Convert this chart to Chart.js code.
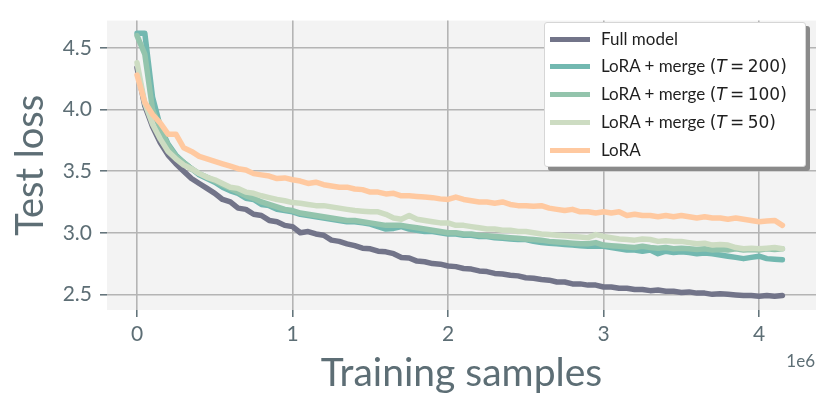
<!DOCTYPE html>
<html>
<head>
<meta charset="utf-8">
<script src="https://cdn.jsdelivr.net/npm/chart.js@4.4.0/dist/chart.umd.min.js"></script>
<style>
  html, body { margin: 0; padding: 0; background: #ffffff; }
  #wrap { position: relative; width: 830px; height: 409px; }
  #legend {
    position: absolute; left: 544px; top: 22px; width: 262px; height: 145px;
    background: #ffffff; border: 1px solid #d6d6d6; border-radius: 3px;
    box-shadow: 4px 4px 0 #8a8a8a; box-sizing: border-box;
    font-family: Lato, "Open Sans", sans-serif; font-size: 17px; color: #1f1f1f;
  }
  .row { position: absolute; left: 0; height: 20px; }
  .sw { position: absolute; left: 5px; width: 40px; height: 5px; }
  .lab { position: absolute; left: 56px; white-space: nowrap; line-height: 20px; }
  .math { font-family: "DejaVu Sans", sans-serif; font-size: 17px; }
  .math i { font-family: "DejaVu Sans", sans-serif; font-style: oblique; }
</style>
</head>
<body>
<div id="wrap">
  <canvas id="c" width="830" height="409"></canvas>
  <div id="legend"></div>
</div>
<script>
// Training samples (in units of 1e6)
const samples = [0,0.05,0.1,0.15,0.2,0.25,0.3,0.35,0.4,0.45,0.5,0.55,0.6,0.65,0.7,0.75,0.8,0.85,0.9,0.95,
  1,1.05,1.1,1.15,1.2,1.25,1.3,1.35,1.4,1.45,1.5,1.55,1.6,1.65,1.7,1.75,1.8,1.85,1.9,1.95,
  2,2.05,2.1,2.15,2.2,2.25,2.3,2.35,2.4,2.45,2.5,2.55,2.6,2.65,2.7,2.75,2.8,2.85,2.9,2.95,
  3,3.05,3.1,3.15,3.2,3.25,3.3,3.35,3.4,3.45,3.5,3.55,3.6,3.65,3.7,3.75,3.8,3.85,3.9,3.95,
  4,4.05,4.1,4.15];

const fullModel = [4.34,4.03,3.86,3.73,3.63,3.56,3.50,3.44,3.40,3.36,3.32,3.27,3.25,3.20,3.19,3.15,3.14,3.10,3.09,3.06,
  3.05,3.00,3.01,2.99,2.98,2.94,2.93,2.91,2.895,2.875,2.87,2.85,2.845,2.83,2.80,2.795,2.77,2.765,2.75,2.745,
  2.73,2.725,2.71,2.705,2.69,2.685,2.67,2.665,2.655,2.65,2.635,2.63,2.62,2.615,2.60,2.60,2.585,2.585,2.575,2.575,
  2.56,2.56,2.55,2.55,2.54,2.54,2.53,2.535,2.525,2.525,2.515,2.52,2.51,2.51,2.50,2.505,2.50,2.495,2.49,2.49,
  2.485,2.49,2.485,2.49];

const mergeT200 = [4.62,4.62,4.10,3.86,3.72,3.63,3.57,3.52,3.47,3.44,3.41,3.37,3.34,3.32,3.28,3.27,3.23,3.22,3.19,3.18,
  3.17,3.15,3.14,3.13,3.12,3.11,3.10,3.09,3.09,3.08,3.07,3.05,3.03,3.035,3.05,3.03,3.02,3.01,3.01,3.00,
  2.99,2.99,2.98,2.98,2.97,2.97,2.96,2.955,2.95,2.945,2.945,2.93,2.92,2.915,2.91,2.905,2.90,2.895,2.89,2.89,
  2.89,2.88,2.87,2.86,2.86,2.85,2.86,2.83,2.85,2.84,2.845,2.84,2.83,2.835,2.83,2.82,2.81,2.80,2.79,2.80,
  2.81,2.79,2.785,2.78];

const mergeT100 = [4.60,4.45,4.00,3.84,3.71,3.62,3.57,3.52,3.48,3.45,3.42,3.39,3.36,3.33,3.30,3.28,3.25,3.23,3.21,3.19,
  3.18,3.16,3.15,3.14,3.13,3.12,3.11,3.10,3.10,3.09,3.08,3.07,3.06,3.06,3.06,3.05,3.04,3.03,3.02,3.01,
  3.00,3.00,2.99,2.99,2.98,2.975,2.97,2.965,2.96,2.955,2.95,2.945,2.94,2.93,2.925,2.92,2.915,2.91,2.91,2.92,
  2.90,2.895,2.89,2.885,2.88,2.89,2.88,2.875,2.88,2.87,2.875,2.87,2.865,2.87,2.86,2.865,2.86,2.87,2.86,2.865,
  2.86,2.87,2.865,2.87];

const mergeT50 = [4.38,4.05,3.88,3.76,3.66,3.60,3.55,3.52,3.48,3.45,3.43,3.40,3.37,3.36,3.33,3.32,3.30,3.285,3.27,3.26,
  3.245,3.24,3.23,3.22,3.22,3.21,3.20,3.19,3.18,3.175,3.17,3.17,3.15,3.12,3.11,3.14,3.11,3.10,3.09,3.08,
  3.08,3.06,3.06,3.05,3.04,3.03,3.03,3.02,3.02,3.01,3.01,3.00,2.99,2.985,2.98,2.975,2.97,2.965,2.96,2.985,
  2.97,2.96,2.95,2.945,2.94,2.95,2.945,2.93,2.935,2.93,2.93,2.92,2.91,2.915,2.90,2.905,2.90,2.88,2.87,2.875,
  2.87,2.875,2.88,2.87];

const lora = [4.28,4.06,3.96,3.89,3.80,3.80,3.69,3.66,3.62,3.60,3.58,3.56,3.54,3.52,3.51,3.48,3.47,3.46,3.44,3.445,
  3.43,3.42,3.40,3.41,3.39,3.38,3.37,3.37,3.355,3.35,3.33,3.33,3.315,3.32,3.30,3.30,3.295,3.29,3.285,3.275,
  3.27,3.29,3.27,3.26,3.25,3.25,3.24,3.25,3.23,3.22,3.22,3.215,3.22,3.20,3.19,3.18,3.19,3.17,3.17,3.16,
  3.17,3.16,3.17,3.14,3.15,3.14,3.14,3.13,3.14,3.13,3.14,3.13,3.12,3.13,3.12,3.12,3.11,3.12,3.11,3.10,
  3.09,3.095,3.10,3.06];

const seriesNames = ['Full model', 'LoRA + merge', 'LoRA + merge', 'LoRA + merge', 'LoRA'];
const seriesT = [null, '200', '100', '50', null];
const seriesColors = ['#727489', '#72b8b0', '#93c4ac', '#cddcc2', '#ffc9a0'];
const seriesValues = [fullModel, mergeT200, mergeT100, mergeT50, lora];

const xTicks = [0, 1, 2, 3, 4];
const yTicks = [2.5, 3.0, 3.5, 4.0, 4.5];

const datasets = seriesValues.map((vals, i) => ({
  label: seriesNames[i] + (seriesT[i] ? ' (T = ' + seriesT[i] + ')' : ''),
  data: vals.map((v, k) => ({ x: samples[k], y: v })),
  borderColor: seriesColors[i],
  backgroundColor: seriesColors[i],
  borderWidth: 5.5,
  pointRadius: 0,
  tension: 0,
  borderJoinStyle: 'round',
  borderCapStyle: 'round',
  order: seriesValues.length - i
}));

const bgPlugin = {
  id: 'bg',
  beforeDraw(chart) {
    const { ctx, chartArea: a } = chart;
    ctx.save();
    ctx.fillStyle = '#f3f3f3';
    ctx.fillRect(a.left, a.top, a.right - a.left, a.bottom - a.top);
    ctx.restore();
  },
  afterDraw(chart) {
    const { ctx } = chart;
    ctx.save();
    ctx.fillStyle = '#5d6e75';
    ctx.font = '17px Lato, sans-serif';
    ctx.textAlign = 'right';
    ctx.textBaseline = 'middle';
    ctx.fillText('1e6', 815, 362);
    ctx.restore();
  }
};

const tickColor = '#5d6e75';
new Chart(document.getElementById('c'), {
  type: 'line',
  data: { datasets },
  plugins: [bgPlugin],
  options: {
    responsive: false,
    animation: false,
    layout: { padding: { left: 0, top: 14, right: 14, bottom: 0 } },
    plugins: { legend: { display: false }, tooltip: { enabled: false } },
    scales: {
      x: {
        type: 'linear',
        min: -0.193, max: 4.366,
        afterFit(s) { s.height = 99; },
        afterBuildTicks(s) { s.ticks = xTicks.map(v => ({ value: v })); },
        border: { display: false },
        grid: { color: '#b4b4b4', lineWidth: 1.6, tickColor: tickColor, tickLength: 7, tickWidth: 1.5 },
        ticks: { color: tickColor, font: { family: 'Lato', size: 21 }, padding: 5, callback: v => String(v), maxRotation: 0 },
        title: { display: true, text: 'Training samples', color: tickColor, font: { family: 'Lato', size: 39 }, padding: { top: 0, bottom: 12 } }
      },
      y: {
        type: 'linear',
        min: 2.373, max: 4.722,
        afterFit(s) { s.width = 107; },
        afterBuildTicks(s) { s.ticks = yTicks.map(v => ({ value: v })); },
        border: { display: false },
        grid: { color: '#b4b4b4', lineWidth: 1.6, tickColor: tickColor, tickLength: 7, tickWidth: 1.5 },
        ticks: { color: tickColor, font: { family: 'Lato', size: 21 }, padding: 8, callback: v => v.toFixed(1) },
        title: { display: true, text: 'Test loss', color: tickColor, font: { family: 'Lato', size: 38 }, padding: { top: 8, bottom: 0 } }
      }
    }
  }
});

// HTML legend (text kept as real text)
const leg = document.getElementById('legend');
const rowTops = [6, 33, 61, 89, 117];
seriesNames.forEach((name, i) => {
  const row = document.createElement('div');
  row.className = 'row';
  row.style.top = rowTops[i] + 'px';
  const sw = document.createElement('div');
  sw.className = 'sw';
  sw.style.background = seriesColors[i];
  sw.style.top = '8px';
  const lab = document.createElement('div');
  lab.className = 'lab';
  lab.textContent = name + ' ';
  if (seriesT[i]) {
    const m = document.createElement('span');
    m.className = 'math';
    m.innerHTML = '(<i>T</i>\u2009=\u2009' + seriesT[i] + ')';
    lab.appendChild(m);
  }
  row.appendChild(sw);
  row.appendChild(lab);
  leg.appendChild(row);
});
</script>
</body>
</html>
